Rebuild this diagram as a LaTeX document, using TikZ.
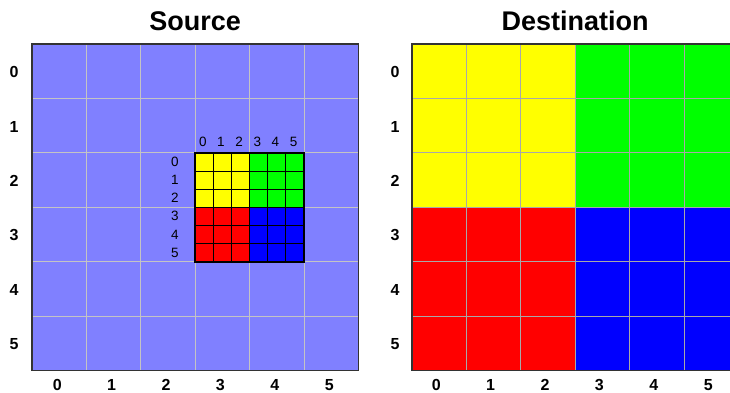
\documentclass[tikz,border=0pt]{standalone}
\usepackage{fontspec}
\setmainfont{Liberation Sans}
\definecolor{peri}{HTML}{8080FF}
\definecolor{gridgray}{HTML}{C4C4C4}
\definecolor{dgrid}{HTML}{A8A8A8}
\definecolor{ylw}{HTML}{FFFF00}
\definecolor{grn}{HTML}{00FF00}
\definecolor{rd}{HTML}{FF0000}
\definecolor{bl}{HTML}{0000FF}
\begin{document}
\begin{tikzpicture}[x=1pt,y=-1pt,
  title/.style={font=\fontsize{27}{27}\selectfont\bfseries, inner sep=0pt},
  axlab/.style={font=\fontsize{16}{16}\selectfont\bfseries, inner sep=0pt},
  inlab/.style={font=\fontsize{13.5}{13.5}\selectfont, inner sep=0pt},
  gline/.style={draw=gridgray, line width=1pt},
  frame/.style={draw=black!80, line width=1.5pt}]
\useasboundingbox[fill=white] (0,0) rectangle (730,393);
\begin{scope}
\clip (0,0) rectangle (730,393);
% ---------- Source ----------
\def\sx{32}\def\sy{44}\def\c{54.4}
\fill[peri] (\sx,\sy) rectangle ++(6*\c,6*\c);
\foreach \k in {1,...,5}{
  \draw[gline] (\sx+\k*\c,\sy) -- ++(0,6*\c);
  \draw[gline] (\sx,\sy+\k*\c) -- ++(6*\c,0);
}
\draw[frame] (\sx,\sy) rectangle ++(6*\c,6*\c);
\node[title] (tsrc) at (\sx+3*\c,21) {Source};
\foreach \k in {0,...,5}{
  \node[axlab] (srow\k) at (14,\sy+\k*\c+0.5*\c+1) {\k};
  \node[axlab] (scol\k) at (\sx+\k*\c+0.5*\c-2,385) {\k};
}
% inner block
\def\ix{194.8}\def\iy{152.8}\def\ic{18.13}
\fill[ylw] (\ix,\iy) rectangle ++(3*\ic,3*\ic);
\fill[grn] (\ix+3*\ic,\iy) rectangle ++(3*\ic,3*\ic);
\fill[rd] (\ix,\iy+3*\ic) rectangle ++(3*\ic,3*\ic);
\fill[bl] (\ix+3*\ic,\iy+3*\ic) rectangle ++(3*\ic,3*\ic);
\foreach \k in {1,...,5}{
  \draw[black, line width=0.8pt] (\ix+\k*\ic,\iy) -- ++(0,6*\ic);
  \draw[black, line width=0.8pt] (\ix,\iy+\k*\ic) -- ++(6*\ic,0);
}
\draw[black, line width=2pt] (\ix,\iy) rectangle ++(6*\ic,6*\ic);
\foreach \k in {0,...,5}{
  \node[inlab] (icol\k) at (\ix+\k*\ic+0.5*\ic-1,142) {\k};
  \node[inlab] (irow\k) at (175,\iy+\k*\ic+0.5*\ic) {\k};
}
% ---------- Destination ----------
\def\dx{412}\def\dy{44}
\fill[ylw] (\dx,\dy) rectangle ++(3*\c,3*\c);
\fill[grn] (\dx+3*\c,\dy) rectangle ++(3*\c,3*\c);
\fill[rd] (\dx,\dy+3*\c) rectangle ++(3*\c,3*\c);
\fill[bl] (\dx+3*\c,\dy+3*\c) rectangle ++(3*\c,3*\c);
\foreach \k in {1,...,5}{
  \draw[gline, draw=dgrid] (\dx+\k*\c,\dy) -- ++(0,6*\c);
  \draw[gline, draw=dgrid] (\dx,\dy+\k*\c) -- ++(6*\c,0);
}
\draw[frame] (\dx,\dy) rectangle ++(6*\c,6*\c);
\node[title] (tdst) at (\dx+3*\c,21) {Destination};
\foreach \k in {0,...,5}{
  \node[axlab] (drow\k) at (395,\dy+\k*\c+0.5*\c+1) {\k};
  \node[axlab] (dcol\k) at (\dx+\k*\c+0.5*\c-3,385) {\k};
}
\end{scope}
\end{tikzpicture}
\end{document}
